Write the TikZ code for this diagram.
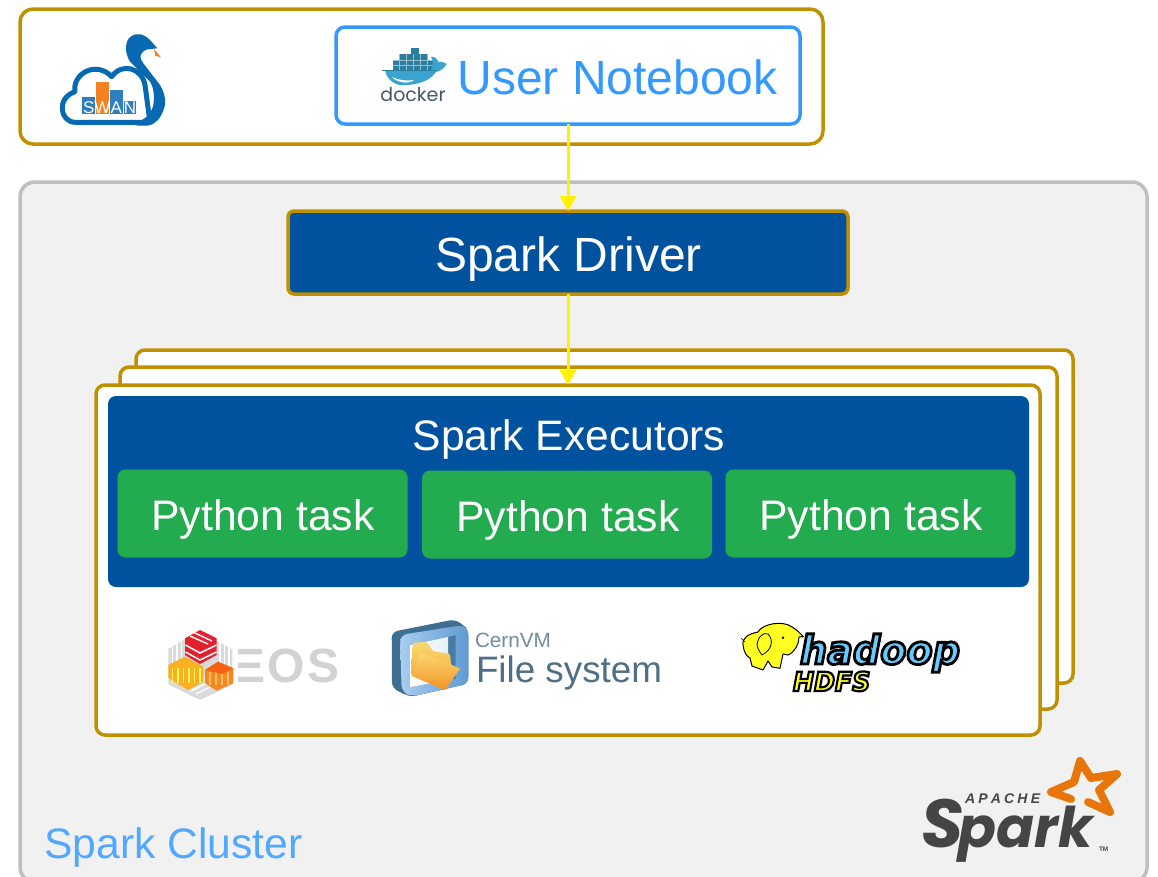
\documentclass[tikz,border=0pt]{standalone}
\usepackage{fontspec}
\usepackage{graphicx}
\setmainfont{Liberation Sans}
\newfontfamily\sparkfont{Poppins}
\newfontfamily\dejafont{DejaVu Sans}
\usetikzlibrary{arrows.meta,calc}
\definecolor{gold}{HTML}{BF9000}
\definecolor{sblue}{HTML}{3399FF}
\definecolor{navy}{HTML}{00529F}
\definecolor{tgreen}{HTML}{23AB4F}
\definecolor{clgrey}{HTML}{BFBFBF}
\definecolor{clfill}{HTML}{F1F1F1}
\definecolor{swanblue}{HTML}{0769B2}
\definecolor{swanbox}{HTML}{2F7FC0}
\definecolor{swanorange}{HTML}{F58220}
\definecolor{whale}{HTML}{3BA3CF}
\definecolor{whaled}{HTML}{2B7F9E}
\definecolor{dockertxt}{HTML}{48585F}
\definecolor{eosgrey}{HTML}{D2D2D2}
\definecolor{eoshex}{HTML}{DADADA}
\definecolor{eosyellow}{HTML}{F9B021}
\definecolor{eosorange}{HTML}{F28A1C}
\definecolor{eosred}{HTML}{E3202F}
\definecolor{cernlight}{HTML}{A9CDEF}
\definecolor{cernblue}{HTML}{5E9BD3}
\definecolor{cerndark}{HTML}{3F6F90}
\definecolor{cerntxt}{HTML}{4F6F87}
\definecolor{foldlight}{HTML}{FBD873}
\definecolor{folddark}{HTML}{EFA226}
\definecolor{hadblue}{HTML}{66CCFF}
\definecolor{hadyellow}{HTML}{FFFF22}
\definecolor{sparkgrey}{HTML}{454547}
\definecolor{sparkorange}{HTML}{E8750A}
\newcommand{\fs}[1]{\fontsize{#1}{#1}\selectfont}
\newcommand{\outl}[2]{\special{pdf:code q 0 0 0 RG #1 w 2 Tr}#2\special{pdf:code 0 Tr Q}}
\newcommand{\swl}[1]{\makebox[13.8pt]{#1}}
\tikzset{
 x=1pt,y=-1pt,
 box/.style={rectangle,inner sep=0pt,outer sep=0pt,line width=3.5pt},
 goldbox/.style={box,draw=gold,fill=white,rounded corners=9pt},
 task/.style={box,fill=tgreen,text=white,rounded corners=8pt,minimum width=290pt,minimum height=88pt,font=\fs{42.7},draw=none},
 flow/.style={draw=yellow,line width=3pt,-{Triangle[length=15pt,width=16pt]}},
 lbl/.style={inner sep=0pt,outer sep=0pt,anchor=base},
}
\begin{document}
\begin{tikzpicture}
\clip (0,0) rectangle (1158,876);
\fill[white] (0,0) rectangle (1158,876);
% containers
\node[goldbox,minimum width=803pt,minimum height=135pt,rounded corners=13pt] (swanbx) at (421.5,76.5) {};
\node[box,draw=clgrey,fill=clfill,rounded corners=15pt,minimum width=1127pt,minimum height=700pt] (cluster) at (583.5,532) {};
\node[box,draw=sblue,fill=white,rounded corners=9pt,minimum width=464pt,minimum height=97pt] (notebook) at (568,75.5) {};
\node[box,draw=gold,fill=navy,rounded corners=6pt,minimum width=560pt,minimum height=83pt] (driver) at (568,252.5) {};
\node[goldbox,minimum width=937pt,minimum height=333pt] (card3) at (604.5,516.5) {};
\node[goldbox,minimum width=937pt,minimum height=342pt] (card2) at (588.5,538) {};
\node[goldbox,minimum width=944pt,minimum height=350pt] (card1) at (568,560) {};
\node[box,fill=navy,rounded corners=8pt,minimum width=921pt,minimum height=191pt] (exec) at (568.5,491.5) {};
\node[task] (t1) at (262.5,513.5) {};
\node[task] (t2) at (567,514.5) {};
\node[task] (t3) at (870.5,513.5) {};
% labels
\node[lbl,text=sblue,font=\fs{48}] (nbl) at (617.5,94) {User Notebook};
\node[lbl,text=white,font=\fs{48}] (drl) at (568.5,271) {Spark Driver};
\node[lbl,text=white,font=\fs{42.6}] (exl) at (569,450) {Spark Executors};
\node[lbl,text=white,font=\fs{42.7}] (t1l) at (263,530) {Python task};
\node[lbl,text=white,font=\fs{42.7}] (t2l) at (568,531) {Python task};
\node[lbl,text=white,font=\fs{42.7}] (t3l) at (871,530) {Python task};
\node[lbl,text=sblue!85!white,font=\fs{42.6},anchor=base west] (cll) at (44.5,858) {Spark Cluster};
% flows
\draw[flow] (notebook.south) -- (driver.north);
\draw[flow] (driver.south) -- (card1.north);
% SWAN logo
\draw[swanblue,line width=5pt,fill=white,line join=round] (75,122.3) .. controls (60,122) and (56,98) .. (75,91.7) .. controls (72,74) and (96,60) .. (111.7,76.7) .. controls (122,62) and (142,68) .. (145,85) -- (150,122.3) -- cycle;
\fill[swanblue] (138.3,34.3) .. controls (130,34) and (126,40) .. (126,48.3) .. controls (126,54) and (128,58) .. (130,61.7) -- (150,81.7) .. controls (153,86) and (155,95) .. (153.3,105) .. controls (152,112) and (146,120) .. (136.7,121.7) -- (136.7,125.7) -- (146.7,125.7) .. controls (155,125) and (162,118) .. (165,105) .. controls (166,97) and (163,90) .. (160,85) -- (143.3,63.3) .. controls (139,58) and (139,53) .. (146.7,49.5) -- (157.3,48.3) -- (150,40) .. controls (146,36) and (142,34) .. (138.3,34.3) -- cycle;
\fill[swanorange] (154,49) -- (161,57.3) -- (155.3,55.7) -- cycle;
\fill[swanbox] (82.3,96.7) rectangle (95,114.3);
\fill[swanorange] (96,82.3) rectangle (109,114.3);
\fill[swanbox] (110,90) rectangle (122.7,114.3);
\fill[swanbox] (124,101) rectangle (136,114.3);
\node[lbl,text=white,font=\fs{17}] (swanl) at (109.4,113) {\swl{S}\swl{W}\swl{A}\swl{N}};
% docker logo
\fill[whaled] (411,48) rectangle (419,56);
\fill[whaled] (400,54) rectangle (427,63);
\fill[whaled] (393,60) rectangle (433,70);
\foreach \x in {399,406,413,420,427} \draw[white!50!whaled,line width=.5pt] (\x,54) -- (\x,70);
\foreach \y in {60,65} \draw[white!50!whaled,line width=.4pt] (393,\y) -- (433,\y);
\fill[whale] (385,70) -- (431,70) .. controls (434,66) and (433,60) .. (431,57) .. controls (434,56) and (437,58) .. (438.5,62) .. controls (441,61) and (444,62) .. (446.5,64) .. controls (444,69) and (440,71) .. (436,72) .. controls (428,84) and (410,85.5) .. (400,85) .. controls (392,84) and (386,77) .. (385,70) -- cycle;
\fill[white] (392,77) .. controls (396,82) and (408,85) .. (414,80) .. controls (405,81) and (398,80) .. (392,77) -- cycle;
\draw[whaled,line width=.8pt] (382,70) -- (436,70);
\node[lbl,text=dockertxt,font=\fs{19}] (dockl) at (413,101) {\sparkfont docker};
% EOS logo
\node[lbl,text=eosgrey,font=\fs{48}\bfseries,anchor=base west] (eosl) at (224,682) {\scalebox{1.3}[1]{E}\kern2pt O\kern3pt S};
\fill[white] (222,645) rectangle (238,685);
\fill[eoshex] (200,630) -- (233,649) -- (233,685) -- (200,700) -- (168.3,685) -- (168.3,649) -- cycle;
\foreach \x in {172.5,177,181.5,220,224.5,229} \draw[white,line width=1.7pt] (\x,640) -- (\x,670);
\foreach \a in {0,1,2} \draw[white,line width=1.5pt] ({186+\a*5},{688+\a*3}) -- ({204+\a*5},{679+\a*3});
\draw[white,line width=1.2pt] (200,630) -- (233,649) -- (233,685) -- (200,701) -- (168,685);
\fill[eosyellow] (185,656.7) -- (203.3,666.7) -- (203.3,681.7) -- (188,690) -- (168.3,678) -- (168.3,665) -- cycle;
\foreach \x in {172.5,178,183.5,189,194.5,200} \draw[white!35!yellow,line width=1.5pt] (\x,{668}) -- (\x,{683});
\fill[eosorange] (218,661.7) -- (233.3,668.3) -- (233.3,683.3) -- (216.7,690.7) -- (205,683.3) -- (205,670) -- cycle;
\foreach \x in {210,216,222,228} \draw[white!45!orange,line width=1.4pt] (\x,672) -- (\x,685);
\fill[eosorange!70!red] (218,661.7) -- (233.3,668.3) -- (222,674) -- (205,670) -- cycle;
\fill[eosred] (200,630) -- (216.7,638.3) -- (216.7,655) -- (200,664) -- (185,655) -- (185,638.3) -- cycle;
\draw[white,line width=1.4pt] (190,636) -- (208,644);
\draw[white,line width=1.4pt] (194,632.5) -- (212,641);
\foreach \a in {0,1} \draw[white,line width=1.5pt] (185.5,{645+\a*7}) -- (200,{653+\a*7}) -- (216.5,{645+\a*7});
% CernVM logo
\fill[cerndark,rounded corners=6pt] (391.7,632) -- (455,619.3) -- (468.3,628.7) -- (468.3,683.7) -- (410,697) -- (392,688) -- cycle;
\shade[left color=cernlight,right color=cernblue,rounded corners=7pt] (400,635) -- (461.7,625.3) -- (468.3,628) -- (468.3,683.7) -- (411.7,696.5) -- (401.7,692) -- cycle;
\fill[cerndark!70!cernblue] (448,637) -- (455.5,635.3) -- (455.5,678.7) -- (448,680) -- cycle;
\shade[left color=white,right color=white!70!cernlight] (410,645.3) -- (448,637) -- (448,680) -- (410,687) -- cycle;
\shade[top color=foldlight,bottom color=folddark,rounded corners=1.5pt] (412.3,647) -- (413.3,642.7) -- (426.7,642) -- (433.3,651.3) -- (450,653.7) -- (451.7,672) -- (443,688) -- (411,675) -- cycle;
\shade[top color=foldlight,bottom color=folddark!90!red] (420,653) -- (450,664) -- (460,668.7) -- (445,690.3) -- (412,676) -- cycle;
\node[lbl,text=cerntxt!80!white,font=\fs{20.7},anchor=base west] (cvm) at (475,647) {CernVM};
\node[lbl,text=cerntxt,font=\fs{36.8},anchor=base west] (fsl) at (476,682) {File system};
% hadoop logo
\draw[black,line width=1pt,fill=hadyellow,line join=round] (743,645) .. controls (742,638) and (748,634) .. (758,632) .. controls (762,624) and (782,620) .. (791.7,626.7) .. controls (797,630) and (800,633) .. (803.3,636.7) -- (799,637) .. controls (799,644) and (795,652) .. (788,655) -- (783,654) -- (780,668.3) -- (772,667) -- (768,661) -- (763,670) -- (752,666) -- (750,658) .. controls (746,656) and (744,652) .. (743,645) -- cycle;
\draw[black,line width=.7pt] (741,638) -- (745,642);
\draw[black,line width=.8pt,fill=hadyellow] (757,645) .. controls (758,636) and (764,632) .. (768,634) .. controls (774,640) and (772,650) .. (762,655) .. controls (760,652) and (758,650) .. (757,645) -- cycle;
\fill[black] (783,637.7) circle (1.3pt);
\node[lbl,font=\fs{36},text=hadblue,anchor=base west] (hadl) at (800,664) {\scalebox{1.06}[1.1]{\dejafont\bfseries\itshape\outl{2.6}{hadoop}}};
\node[lbl,font=\fs{24},text=hadyellow,anchor=base west] (hdfsl) at (793,691) {\scalebox{1.05}[1.1]{\dejafont\bfseries\itshape\outl{2}{HDFS}}};
% Spark logo
\draw[sparkorange,line width=8pt,line join=round,line cap=round] (1088,802) -- (1110,812) -- (1099,790) -- (1117,774) -- (1091,778) -- (1080,761) -- (1074,782) -- (1051,792) -- (1071,799);
\node[lbl,text=sparkgrey,font=\fs{14}\bfseries,anchor=base west] (apl) at (965,803) {\itshape A\kern3.2pt P\kern3.2pt A\kern3.2pt C\kern3.2pt H\kern3.2pt E};
\node[lbl,text=sparkgrey,anchor=base west] (spl) at (921,847) {\sparkfont\bfseries\itshape{\fs{68}S}\kern-5pt{\fs{56}park}};
\node[lbl,text=sparkgrey,font=\fs{6.5}\bfseries,anchor=base west] (tml) at (1099,851) {TM};
\end{tikzpicture}
\end{document}
